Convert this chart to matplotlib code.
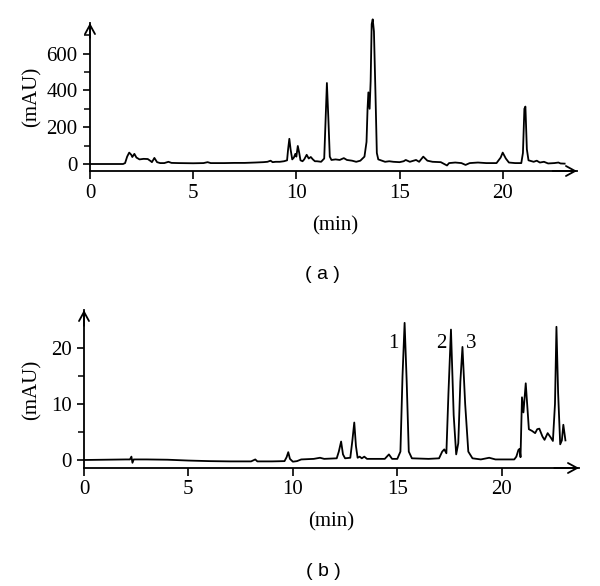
import matplotlib
matplotlib.use("Agg")
import matplotlib.pyplot as plt
from matplotlib.ticker import FixedLocator

# ---------------- data ----------------
time_a = [0, 1.0, 1.6, 1.7, 1.8, 1.9, 2.0, 2.05, 2.15, 2.25, 2.4, 2.6, 2.8, 2.95, 3.0,
          3.12, 3.25, 3.4, 3.6, 3.8, 3.95, 4.3, 5.0, 5.5, 5.7, 5.85, 6.5, 7.0, 7.5, 8.0,
          8.4, 8.6, 8.75, 8.85, 9.0, 9.2, 9.4, 9.55, 9.6, 9.66, 9.72, 9.8, 9.88, 9.95,
          10.0, 10.07, 10.14, 10.2, 10.3, 10.38, 10.5, 10.6, 10.7, 10.8, 10.9, 11.0,
          11.2, 11.35, 11.42, 11.48, 11.55, 11.62, 11.7, 11.9, 12.1, 12.3, 12.45, 12.7,
          12.9, 13.1, 13.3, 13.4, 13.45, 13.49, 13.55, 13.6, 13.65, 13.7, 13.76, 13.83,
          13.9, 13.97, 14.3, 14.5, 14.7, 15.0, 15.2, 15.3, 15.5, 15.8, 15.95, 16.15,
          16.35, 16.6, 17.0, 17.3, 17.4, 17.7, 18.0, 18.2, 18.4, 18.8, 19.2, 19.7, 19.9,
          20.0, 20.15, 20.3, 20.6, 20.9, 20.98, 21.05, 21.1, 21.17, 21.25, 21.5, 21.65,
          21.8, 22.0, 22.2, 22.5, 22.7, 22.8, 23.0]
signal_a = [0, 0, 0, 5, 40, 62, 50, 38, 55, 35, 25, 28, 27, 15, 10,
            33, 10, 5, 5, 12, 6, 5, 4, 5, 10, 5, 5, 6, 6, 8,
            10, 12, 18, 10, 12, 12, 15, 20, 80, 137, 80, 25, 35, 55,
            40, 98, 60, 20, 15, 25, 50, 30, 38, 25, 15, 15,
            12, 30, 250, 440, 250, 40, 22, 25, 22, 32, 22, 18,
            12, 18, 40, 120, 300, 389, 300, 450, 760, 786, 720, 400,
            60, 25, 12, 15, 12, 10, 15, 22, 12, 22, 12, 40,
            18, 12, 10, -8, 5, 8, 5, -5, 5, 8, 5, 5, 35,
            62, 30, 8, 5, 5, 60, 300, 312, 80, 20, 12, 18,
            8, 12, 3, 5, 8, 3, 2]

time_b = [0, 1.0, 2.0, 2.2, 2.27, 2.32, 2.38, 3.0, 4.0, 5.0, 6.0, 7.0, 8.0, 8.2, 8.3,
          9.0, 9.6, 9.7, 9.78, 9.86, 10.0, 10.2, 10.4, 11.0, 11.3, 11.5, 12.1, 12.2,
          12.31, 12.4, 12.5, 12.75, 12.85, 12.94, 13.02, 13.1, 13.2, 13.3, 13.42, 13.55,
          14.0, 14.4, 14.6, 14.75, 15.0, 15.15, 15.25, 15.35, 15.45, 15.55, 15.7, 16.5,
          17.0, 17.15, 17.25, 17.35, 17.45, 17.57, 17.7, 17.82, 17.92, 18.02, 18.12,
          18.25, 18.4, 18.6, 19.0, 19.4, 19.7, 20.0, 20.6, 20.7, 20.8, 20.86, 20.9,
          20.97, 21.04, 21.15, 21.3, 21.45, 21.6, 21.7, 21.8, 21.95, 22.05, 22.2, 22.35,
          22.45, 22.55, 22.62, 22.7, 22.8, 22.88, 22.95, 23.05]
signal_b = [0, 0.05, 0.1, 0.1, 0.6, -0.5, 0.1, 0.1, 0.05, -0.1, -0.2, -0.25, -0.25, 0.1, -0.25,
            -0.25, -0.2, 0.5, 1.4, 0.2, -0.3, -0.2, 0.1, 0.2, 0.4, 0.2, 0.3, 1.5,
            3.3, 1.0, 0.3, 0.4, 3.5, 6.7, 2.5, 0.4, 0.6, 0.3, 0.6, 0.2,
            0.2, 0.2, 1.0, 0.2, 0.2, 1.5, 15, 24.5, 14, 1.5, 0.3, 0.2,
            0.3, 1.5, 1.9, 1.2, 12, 23.3, 8, 1.0, 3, 14, 20.2,
            10, 1.5, 0.3, 0.1, 0.4, 0.1, 0.1, 0.1, 0.6, 1.8, 2.0, 0.5,
            11.2, 8.5, 13.7, 5.5, 5.2, 4.8, 5.5, 5.6, 4.2, 3.6, 4.8, 4.0,
            3.4, 10, 23.8, 12, 2.8, 3.5, 6.3, 3.5]

xticks = [0, 5, 10, 15, 20]
yticks_a = [0, 200, 400, 600]
yminor_a = [100, 300, 500, 700]
yticks_b = [0, 10, 20]
yminor_b = [5, 15]
peak_labels = ["1", "2", "3"]
peak_label_t = [14.83, 17.13, 18.52]
peak_label_y = [20.9, 20.9, 20.9]

# ---------------- figure ----------------
W, H = 600, 586
fig = plt.figure(figsize=(W / 100, H / 100), dpi=100)
serif = ["Liberation Serif", "DejaVu Serif"]
sans = ["Liberation Sans", "DejaVu Sans"]
FS = 15


def px_axes(left, right, top, bottom):
    return fig.add_axes([left / W, 1 - bottom / H, (right - left) / W, (bottom - top) / H])


def style(ax, xlim, ylim, yt, ym):
    ax.set_xlim(*xlim)
    ax.set_ylim(*ylim)
    for s in ("top", "right"):
        ax.spines[s].set_visible(False)
    for s in ("left", "bottom"):
        ax.spines[s].set_linewidth(1.3)
    ax.set_xticks(xticks)
    ax.set_yticks(yt)
    ax.yaxis.set_minor_locator(FixedLocator(ym))
    ax.tick_params(axis="x", which="major", direction="out", length=6, width=1.2, pad=3)
    ax.tick_params(axis="y", which="major", direction="out", length=5, width=1.2, pad=4)
    ax.tick_params(axis="y", which="minor", direction="out", length=4, width=1.1)
    for lab in ax.get_xticklabels() + ax.get_yticklabels():
        lab.set_family(serif)
        lab.set_fontsize(FS)
    arrow = dict(arrowstyle="->, head_length=0.55, head_width=0.3", lw=1.3,
                 color="black", mutation_scale=12, shrinkA=0, shrinkB=0)
    ax.annotate("", xy=(1, 0), xytext=(0.95, 0), xycoords="axes fraction",
                arrowprops=arrow, annotation_clip=False)
    ax.annotate("", xy=(0, 1), xytext=(0, 0.9), xycoords="axes fraction",
                arrowprops=arrow, annotation_clip=False)


# panel (a)
ax1 = px_axes(90, 577, 23, 171)
ax1.plot(time_a, signal_a, color="black", lw=1.3, clip_on=False)
style(ax1, (0, 23.6), (-38, 766), yticks_a, yminor_a)

# panel (b)
ax2 = px_axes(84, 579, 310, 468)
ax2.plot(time_b, signal_b, color="black", lw=1.3, clip_on=False)
style(ax2, (0, 23.7), (-1.43, 26.8), yticks_b, yminor_b)
for lab, t, y in zip(peak_labels, peak_label_t, peak_label_y):
    ax2.text(t, y, lab, family=serif, fontsize=FS, ha="center", va="center")

# axis titles and panel labels
fig.text(32 / W, 1 - 97 / H, "(mAU)", family=serif, fontsize=FS, rotation=90,
         ha="center", va="center")
fig.text(335 / W, 1 - 226 / H, "(min)", family=serif, fontsize=FS, ha="center", va="center")
fig.text(322 / W, 1 - 274 / H, "( a )", family=sans, fontsize=14, ha="center", va="center")

fig.text(32 / W, 1 - 390 / H, "(mAU)", family=serif, fontsize=FS, rotation=90,
         ha="center", va="center")
fig.text(331 / W, 1 - 522 / H, "(min)", family=serif, fontsize=FS, ha="center", va="center")
fig.text(323 / W, 1 - 571 / H, "( b )", family=sans, fontsize=14, ha="center", va="center")

fig.savefig("out.png", dpi=100, facecolor="white")
